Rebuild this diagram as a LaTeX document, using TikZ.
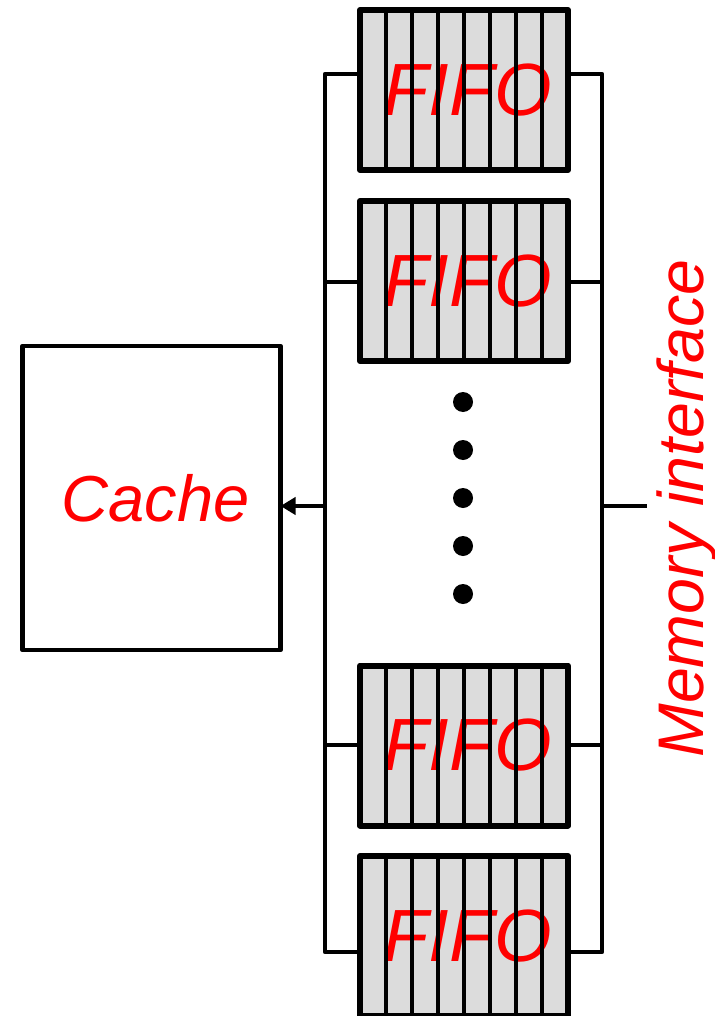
\documentclass[tikz,border=0pt]{standalone}
\usepackage{fontspec}
\setmainfont{Liberation Sans}
\usetikzlibrary{arrows.meta}
\definecolor{fifogray}{HTML}{DCDCDC}
\begin{document}
\begin{tikzpicture}[x=1pt,y=-1pt,line join=round,
  fifobox/.style={draw,line width=6pt,fill=fifogray,minimum width=208pt,minimum height=160pt,inner sep=0pt,outer sep=0pt},
  divider/.style={line width=4pt},
  fifotext/.style={text=red,font=\fontsize{74}{74}\selectfont\itshape,inner sep=0pt},
  cachebox/.style={draw,line width=4.5pt,minimum width=258pt,minimum height=304pt,inner sep=0pt,outer sep=0pt},
  cachetext/.style={text=red,font=\fontsize{65}{65}\selectfont\itshape,inner sep=0pt},
  bus/.style={line width=4.5pt},
  dotmark/.style={circle,fill=black,minimum size=20pt,inner sep=0pt}]
\useasboundingbox (0,0) rectangle (714,1016);
% FIFO boxes
\node[fifobox] (f1) at (464,90) {};
\node[fifobox] (f2) at (464,281) {};
\node[fifobox] (f3) at (464,745.5) {};
\node[fifobox] (f4) at (464,936) {};
\foreach \f in {f1,f2,f3,f4}{
  \node[fifotext] (\f t) at ([xshift=4pt]\f.center) {FIFO};
  \foreach \k in {1,...,7}{
    \draw[divider] ([xshift=26*\k pt]\f.north west) -- ([xshift=26*\k pt]\f.south west);
  }
}
% cache
\node[cachebox] (cache) at (151.5,498) {};
\node[cachetext] (cachet) at ([xshift=4pt]cache.center) {Cache};
% bus coordinates
\coordinate (l1) at (325,74);
\coordinate (l2) at (325,282);
\coordinate (l3) at (325,745);
\coordinate (l4) at (325,952);
\coordinate (lm) at (325,506);
\coordinate (r1) at (602,74);
\coordinate (r2) at (602,282);
\coordinate (r3) at (602,745);
\coordinate (r4) at (602,952);
\coordinate (rm) at (602,506);
\coordinate (mi) at (647,506);
% left bus
\draw[bus] (l1 -| f1.west) -- (l1) -- (l4) -- (l4 -| f4.west);
\draw[bus] (l2) -- (l2 -| f2.west);
\draw[bus] (l3) -- (l3 -| f3.west);
\draw[bus,-{Triangle[length=15pt,width=17pt]}] (lm) -- (lm -| cache.east);
% right bus
\draw[bus] (r1 -| f1.east) -- (r1) -- (r4) -- (r4 -| f4.east);
\draw[bus] (r2) -- (r2 -| f2.east);
\draw[bus] (r3) -- (r3 -| f3.east);
\draw[bus] (rm) -- (mi);
% dots
\foreach \i in {0,...,4}{
  \node[dotmark] (d\i) at (463,402+48*\i) {};
}
% memory interface label
\node[text=red,font=\fontsize{64.5}{64.5}\selectfont\itshape,rotate=90,anchor=base,inner sep=0pt] (mem) at (703,508.5) {Memory interface};
\end{tikzpicture}
\end{document}
